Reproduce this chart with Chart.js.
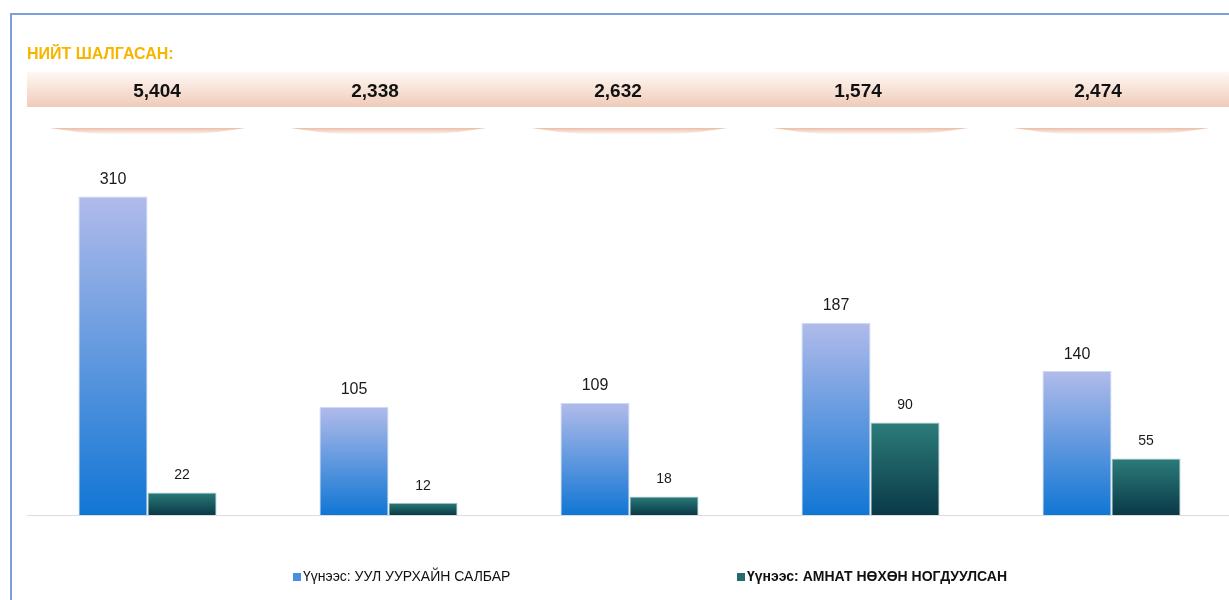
<!DOCTYPE html>
<html>
<head>
<meta charset="utf-8">
<script src="https://cdn.jsdelivr.net/npm/chart.js@4"></script>
<style>
  html, body { margin: 0; padding: 0; background: #fff; overflow: hidden; }
  canvas { display: block; }
</style>
</head>
<body>
<canvas id="chart" width="1232" height="600"></canvas>
<script>
'use strict';

// Inspection data per unit
const categories = ['1', '2', '3', '4', '5'];
const totalChecked = [5404, 2338, 2632, 1574, 2474];
const miningSector = [310, 105, 109, 187, 140];
const compensated = [22, 12, 18, 90, 55];
const seriesNames = ['Үүнээс: УУЛ УУРХАЙН САЛБАР', 'Үүнээс: АМНАТ НӨХӨН НОГДУУЛСАН'];
const headerTitle = 'НИЙТ ШАЛГАСАН:';

const FONT = "'Liberation Sans', Arial, sans-serif";
const totalsX = [157, 375, 618, 858, 1098];
const legendX = [293, 737];

// Vertical gradient spanning each bar from its top down to zero
function barGradient(top, bottom) {
  return ctx => {
    const chart = ctx.chart;
    const y = chart.scales.y;
    if (!y || ctx.type !== 'data') return bottom;
    const y0 = y.getPixelForValue(0);
    const y1 = y.getPixelForValue(ctx.raw);
    if (!isFinite(y0) || !isFinite(y1) || y0 === y1) return bottom;
    const g = chart.ctx.createLinearGradient(0, y1, 0, y0);
    g.addColorStop(0, top);
    g.addColorStop(1, bottom);
    return g;
  };
}

// Frame, title, totals band and its little shadows
const headerPlugin = {
  id: 'header',
  beforeDraw(chart) {
    const c = chart.ctx;
    const x = chart.scales.x;
    c.save();

    c.strokeStyle = '#7f9fdc';
    c.lineWidth = 2;
    c.beginPath();
    c.moveTo(11, 600);
    c.lineTo(11, 14);
    c.lineTo(1232, 14);
    c.stroke();

    c.fillStyle = '#f7b500';
    c.font = 'bold 16px ' + FONT;
    c.textBaseline = 'middle';
    c.textAlign = 'left';
    c.fillText(headerTitle, 27, 55);

    const band = c.createLinearGradient(0, 72, 0, 107);
    band.addColorStop(0, '#fff8f4');
    band.addColorStop(1, '#efcbb9');
    c.fillStyle = band;
    c.fillRect(27, 72, 1205, 35);

    c.fillStyle = '#111';
    c.font = 'bold 19px ' + FONT;
    c.textAlign = 'center';
    totalChecked.forEach((v, i) => {
      c.fillText(v.toLocaleString('en-US'), totalsX[i], 92);
    });

    categories.forEach((_, i) => {
      const cx = x.getPixelForValue(i);
      const l = cx - 98, r = cx + 98;
      const g = c.createLinearGradient(0, 128, 0, 136);
      g.addColorStop(0, 'rgba(234,184,160,0.95)');
      g.addColorStop(0.5, 'rgba(244,214,200,0.7)');
      g.addColorStop(1, 'rgba(255,255,255,0)');
      c.fillStyle = g;
      c.beginPath();
      c.moveTo(l, 128);
      c.lineTo(r, 128);
      c.quadraticCurveTo(cx, 144, l, 128);
      c.closePath();
      c.fill();
    });
    c.restore();
  },
  beforeDatasetsDraw(chart) {
    const c = chart.ctx;
    const y0 = Math.round(chart.scales.y.getPixelForValue(0)) + 0.5;
    c.save();
    c.strokeStyle = '#dcdcdc';
    c.lineWidth = 1;
    c.beginPath();
    c.moveTo(chart.chartArea.left, y0);
    c.lineTo(chart.chartArea.right, y0);
    c.stroke();
    c.restore();
  },
  afterDatasetsDraw(chart) {
    const c = chart.ctx;
    c.save();
    c.fillStyle = '#1a1a1a';
    c.textAlign = 'center';
    c.textBaseline = 'middle';
    chart.data.datasets.forEach((ds, di) => {
      const meta = chart.getDatasetMeta(di);
      c.font = (di === 0 ? '16px ' : '14px ') + FONT;
      meta.data.forEach((bar, i) => {
        c.fillText(String(ds.data[i]), bar.x, bar.y - 17);
      });
    });
    c.restore();
  },
  afterDraw(chart) {
    const c = chart.ctx;
    c.save();
    c.textBaseline = 'middle';
    c.textAlign = 'left';
    chart.data.datasets.forEach((ds, di) => {
      const lx = legendX[di];
      c.fillStyle = ds.legendColor;
      c.fillRect(lx, 573, 8, 8);
      c.fillStyle = '#111';
      c.font = (di === 1 ? 'bold ' : '') + '14px ' + FONT;
      c.fillText(ds.label, lx + 10, 577);
    });
    c.restore();
  }
};

new Chart(document.getElementById('chart'), {
  type: 'bar',
  data: {
    labels: categories,
    datasets: [
      {
        label: seriesNames[0],
        data: miningSector,
        backgroundColor: barGradient('#b1bbea', '#1176d4'),
        borderColor: 'rgba(190,210,240,0.8)',
        borderWidth: 1,
        legendColor: '#4a8ee2'
      },
      {
        label: seriesNames[1],
        data: compensated,
        backgroundColor: barGradient('#2c7c7a', '#0a3947'),
        borderColor: 'rgba(150,190,190,0.8)',
        borderWidth: 1,
        legendColor: '#246a6e'
      }
    ]
  },
  options: {
    responsive: false,
    animation: false,
    events: [],
    categoryPercentage: 0.573,
    barPercentage: 1,
    layout: { padding: { left: 27, right: 0, top: 145, bottom: 85 } },
    plugins: { legend: { display: false }, tooltip: { enabled: false } },
    scales: {
      x: { display: false },
      y: { display: false, min: 0, max: 360 }
    }
  },
  plugins: [headerPlugin]
});
</script>
</body>
</html>
